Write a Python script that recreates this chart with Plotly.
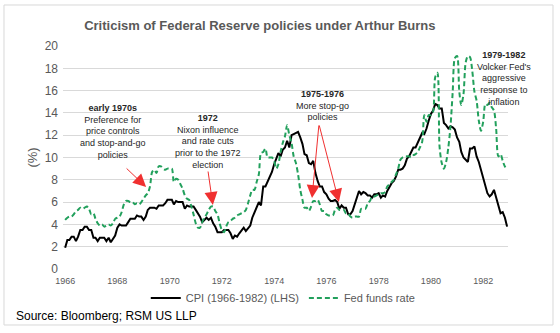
import pandas as pd
import plotly.graph_objects as go

# Monthly observations, Jan 1966 - Dec 1982
months = pd.date_range("1966-01-01", periods=204, freq="MS")

cpi = [
    1.9, 2.6, 2.6, 2.9, 2.9, 2.5, 2.9, 3.5, 3.5, 3.8, 3.8, 3.5,   # 1966
    3.5, 2.8, 2.8, 2.5, 2.8, 2.8, 2.8, 2.5, 2.8, 2.4, 2.7, 3.0,   # 1967
    3.7, 4.0, 3.9, 3.9, 3.9, 4.2, 4.5, 4.5, 4.5, 4.8, 4.7, 4.7,   # 1968
    4.4, 4.7, 5.3, 5.5, 5.5, 5.5, 5.4, 5.7, 5.7, 5.7, 5.9, 6.2,   # 1969
    6.2, 6.2, 5.8, 6.1, 6.0, 6.0, 6.0, 5.4, 5.7, 5.6, 5.6, 5.6,   # 1970
    5.3, 5.0, 4.7, 4.2, 4.4, 4.6, 4.4, 4.6, 4.1, 3.8, 3.3, 3.3,   # 1971
    3.3, 3.5, 3.5, 3.5, 3.2, 2.7, 3.0, 2.9, 3.2, 3.4, 3.7, 3.4,   # 1972
    3.7, 3.9, 4.6, 5.1, 5.5, 6.0, 5.7, 7.4, 7.4, 7.8, 8.3, 8.7,   # 1973
    9.4, 10.0, 10.4, 10.1, 10.7, 10.9, 11.5, 10.9, 12.0, 12.1, 12.2, 12.3,  # 1974
    11.8, 11.2, 10.3, 10.2, 9.5, 9.4, 9.7, 8.6, 7.9, 7.4, 7.4, 6.9,  # 1975
    6.7, 6.3, 6.1, 6.1, 6.2, 6.0, 5.4, 5.7, 5.5, 5.5, 4.9, 4.9,   # 1976
    5.2, 5.9, 6.4, 7.0, 6.7, 6.9, 6.8, 6.6, 6.6, 6.4, 6.7, 6.7,   # 1977
    6.8, 6.4, 6.6, 6.5, 7.0, 7.4, 7.7, 7.9, 8.3, 8.9, 8.9, 9.0,   # 1978
    9.3, 9.9, 10.1, 10.5, 10.9, 10.9, 11.3, 11.8, 12.2, 12.1, 12.6, 13.3,  # 1979
    13.9, 14.2, 14.8, 14.7, 14.4, 14.4, 13.1, 12.9, 12.6, 12.8, 12.7, 12.5,  # 1980
    11.8, 11.4, 10.5, 10.0, 9.8, 9.6, 10.8, 10.8, 11.0, 10.1, 9.6, 8.9,  # 1981
    8.4, 7.6, 6.8, 6.5, 6.7, 7.1, 6.4, 5.9, 5.0, 5.1, 4.6, 3.8,   # 1982
]

fed_funds = [
    4.4, 4.6, 4.7, 4.7, 4.9, 5.2, 5.3, 5.5, 5.4, 5.5, 5.6, 5.4,   # 1966
    4.9, 5.0, 4.5, 4.1, 3.9, 4.0, 3.8, 3.9, 4.0, 3.9, 4.1, 4.5,   # 1967
    4.6, 4.7, 5.1, 5.8, 6.1, 6.1, 6.0, 6.0, 5.8, 5.9, 5.8, 6.0,   # 1968
    6.3, 6.6, 6.8, 7.4, 8.7, 8.9, 8.6, 9.2, 9.2, 9.0, 8.9, 9.0,   # 1969
    9.0, 9.0, 7.8, 8.1, 8.0, 7.6, 7.2, 6.6, 6.3, 6.2, 5.6, 4.9,   # 1970
    4.1, 3.7, 3.7, 4.2, 4.6, 4.9, 5.3, 5.6, 5.6, 5.2, 4.9, 4.1,   # 1971
    3.5, 3.3, 3.8, 4.2, 4.3, 4.5, 4.6, 4.8, 4.9, 5.0, 5.1, 5.3,   # 1972
    5.9, 6.6, 7.1, 7.1, 7.8, 8.5, 10.4, 10.5, 10.8, 10.0, 10.0, 10.0,  # 1973
    9.7, 9.0, 9.4, 10.5, 11.3, 11.9, 12.9, 12.0, 11.3, 10.1, 9.5, 8.5,  # 1974
    7.1, 6.2, 5.5, 5.5, 5.2, 5.6, 6.1, 6.1, 6.2, 5.8, 5.2, 5.2,   # 1975
    4.9, 4.8, 4.8, 4.8, 5.3, 5.5, 5.3, 5.3, 5.3, 5.0, 5.0, 4.7,   # 1976
    4.6, 4.7, 4.7, 4.7, 5.4, 5.4, 5.4, 5.9, 6.1, 6.5, 6.5, 6.6,   # 1977
    6.7, 6.8, 6.8, 6.9, 7.4, 7.6, 7.8, 8.0, 8.5, 9.0, 9.8, 10.0,  # 1978
    10.1, 10.1, 10.1, 10.0, 10.2, 10.3, 10.5, 10.9, 11.4, 13.8, 13.2, 13.8,  # 1979
    13.8, 14.1, 17.2, 17.6, 11.0, 9.5, 9.0, 9.6, 10.9, 12.8, 15.9, 18.9,  # 1980
    19.1, 15.9, 14.7, 15.7, 18.5, 19.1, 19.0, 17.8, 15.9, 15.1, 13.3, 12.4,  # 1981
    13.2, 14.8, 14.7, 14.9, 14.5, 14.2, 12.6, 10.1, 10.3, 9.7, 9.2, 9.0,  # 1982
]

tick_years = ["1966", "1968", "1970", "1972", "1974", "1976", "1978", "1980", "1982"]
y_ticks = [0, 2, 4, 6, 8, 10, 12, 14, 16, 18, 20]

FONT = "Liberation Sans, Arial, sans-serif"
GREY = "#595959"
GRID = "#d9d9d9"
GREEN = "#22a05c"

fig = go.Figure()
fig.add_trace(go.Scatter(
    x=months, y=cpi, mode="lines", name="CPI (1966-1982) (LHS)",
    line=dict(color="black", width=2),
))
fig.add_trace(go.Scatter(
    x=months, y=fed_funds, mode="lines", name="Fed funds rate",
    line=dict(color=GREEN, width=2, dash="5px,3px", shape="spline", smoothing=0.8),
))

annotations = [
    # text blocks
    dict(x="1967-10-30", y=12.29,
         text="<b>early 1970s</b><br>Preference for<br>price controls<br>and stop-and-go<br>policies"),
    dict(x="1971-06-20", y=11.48,
         text="<b>1972</b><br>Nixon influence<br>and rate cuts<br>prior to the 1972<br>election"),
    dict(x="1975-11-13", y=14.62,
         text="<b>1975-1976</b><br>More stop-go<br>policies"),
    dict(x="1982-10-19", y=17.13,
         text="<b>1979-1982</b><br>Volcker Fed's<br>aggressive<br>response to<br>inflation"),
]
for a in annotations:
    a.update(xref="x", yref="y", showarrow=False, xanchor="center", yanchor="middle",
             align="center", font=dict(family=FONT, size=9, color="#262626"))

arrows = [
    dict(x="1969-02-06", y=7.35, ax=-21, ay=-20),
    dict(x="1971-08-28", y=5.74, ax=-5, ay=-35),
    dict(x="1975-06-14", y=6.37, ax=7, ay=-74),
    dict(x="1976-06-24", y=6.01, ax=-20, ay=-78),
]
for a in arrows:
    a.update(xref="x", yref="y", showarrow=True, arrowhead=2, arrowsize=2.6,
             arrowwidth=1, arrowcolor="#f03030", text="", standoff=0)

annotations += arrows
annotations.append(dict(
    x=-0.110, y=-0.2108, xref="paper", yref="paper", xanchor="left", yanchor="middle",
    showarrow=False, text="Source: Bloomberg; RSM US LLP",
    font=dict(family=FONT, size=12, color="black"),
))

fig.update_layout(
    width=560, height=333,
    margin=dict(l=63, r=52, t=46, b=64),
    paper_bgcolor="white", plot_bgcolor="white",
    font=dict(family=FONT, color=GREY),
    title=dict(text="<b>Criticism of Federal Reserve policies under Arthur Burns</b>",
               x=0.464, xanchor="center", y=0.925, yanchor="middle",
               font=dict(family=FONT, size=13, color=GREY)),
    xaxis=dict(
        range=["1965-12-02", "1982-12-14"],
        tickvals=[y + "-01-01" for y in tick_years], ticktext=tick_years,
        showgrid=False, zeroline=False, showline=False, ticks="",
        ticklabelstandoff=5,
        tickfont=dict(family=FONT, size=9, color=GREY),
    ),
    yaxis=dict(
        range=[0, 20], tickvals=y_ticks,
        showgrid=True, gridcolor=GRID, gridwidth=1, zeroline=False, showline=False,
        ticks="", ticklabelstandoff=4,
        tickfont=dict(family=FONT, size=12, color=GREY),
        title=dict(text="(%)", standoff=4, font=dict(family=FONT, size=13, color=GREY)),
    ),
    legend=dict(orientation="h", x=0.495, xanchor="center", y=-0.13, yanchor="middle",
                font=dict(family=FONT, size=11, color=GREY), bgcolor="rgba(0,0,0,0)",
                itemwidth=30, tracegroupgap=0),
    annotations=annotations,
    shapes=[dict(type="rect", xref="paper", yref="paper",
                 x0=-0.1326, x1=1.1011, y0=-0.2511, y1=1.1839,
                 line=dict(color=GRID, width=1), fillcolor="rgba(0,0,0,0)", layer="below")],
    showlegend=True,
)

fig.write_html("out.html")
